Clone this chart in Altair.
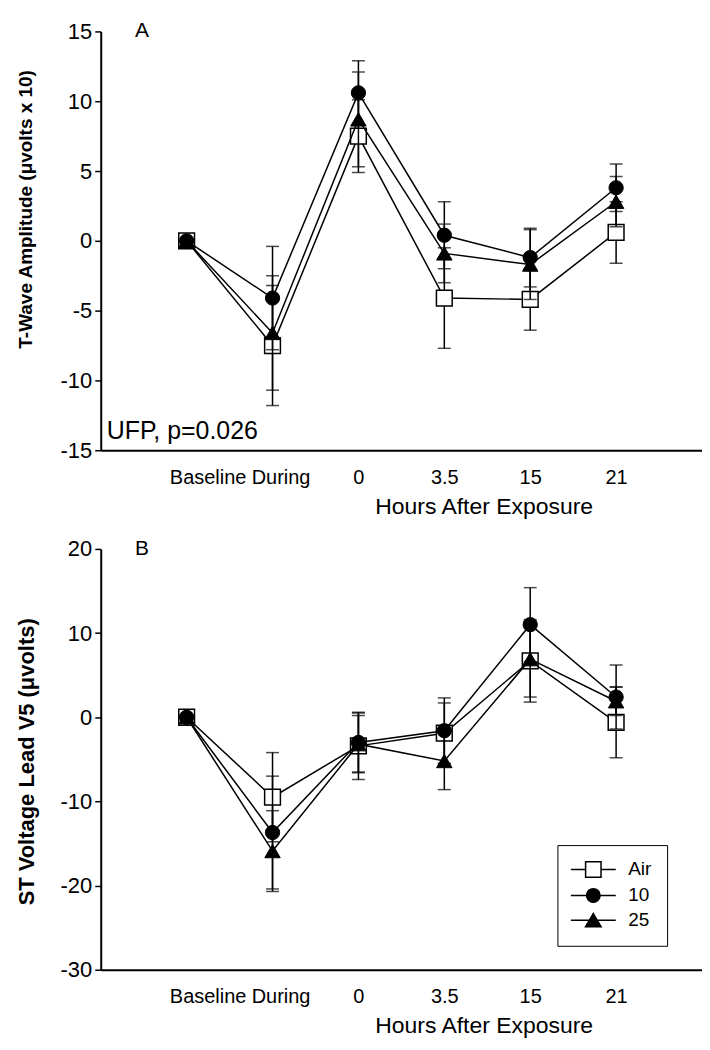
import altair as alt
import pandas as pd

# ---------------- data ----------------
x_labels = ["Baseline", "During", "0", "3.5", "15", "21"]
x_pos = [1, 2, 3, 4, 5, 6]
series_names = ["Air", "10", "25"]

# Panel A: T-wave amplitude (uV x 10)
a_air = [0, -7.5, 7.5, -4.1, -4.2, 0.6]
a_air_se = [0, 4.3, 2.6, 3.6, 2.2, 2.2]
a_10 = [0, -4.1, 10.6, 0.4, -1.2, 3.8]
a_10_se = [0, 3.7, 2.3, 2.4, 2.1, 1.7]
a_25 = [0, -6.6, 8.7, -0.9, -1.7, 2.8]
a_25_se = [0, 4.1, 3.4, 2.1, 2.5, 1.8]

# Panel B: ST voltage lead V5 (uV)
b_air = [0, -9.5, -3.4, -1.9, 6.7, -0.6]
b_air_se = [0, 5.3, 4.0, 3.6, 4.9, 4.2]
b_10 = [0, -13.7, -3.0, -1.6, 11.0, 2.4]
b_10_se = [0, 6.7, 3.5, 3.9, 4.4, 3.8]
b_25 = [0, -15.9, -3.2, -5.2, 6.9, 1.9]
b_25_se = [0, 4.8, 3.4, 3.4, 4.5, 1.7]

a_ticks = [-15, -10, -5, 0, 5, 10, 15]
b_ticks = [-30, -20, -10, 0, 10, 20]

FONT = "Liberation Sans"

marker_style = {
    "Air": dict(shape="square", size=250, fill="white", strokeWidth=1.5),
    "10": dict(shape="circle", size=205, fill="black", strokeWidth=1),
    "25": dict(shape="triangle-up", size=240, fill="black", strokeWidth=1),
}

legend_paths = [
    "M-2.65,0H-0.91M0.91,0H2.65M-0.91,-0.91H0.91V0.91H-0.91Z",
    "M-2.65,0H2.65M0.8,0A0.8,0.8,0,1,1,-0.8,0A0.8,0.8,0,1,1,0.8,0Z",
    "M-2.65,0H2.65M0,-0.8L0.92,0.75H-0.92Z",
]
legend_fills = ["white", "black", "black"]
legend_strokes = ["black", "black", "black"]


def build_df(means, ses):
    rows = []
    for name, m, s in zip(series_names, means, ses):
        for p, v, e in zip(x_pos, m, s):
            rows.append({"series": name, "pos": p, "mean": v,
                         "lo": v - e, "hi": v + e, "se": e})
    return pd.DataFrame(rows)


label_expr = "[" + ",".join("'%s'" % l for l in x_labels) + "][datum.value - 1]"
y_label_expr = "datum.value < 0 ? '-' + abs(datum.value) : '' + datum.value"


def make_panel(means, ses, ydomain, yticks, ytitle, ytitle_y, ytitle_fs, ytitle_pad,
               height, letter, note=None, legend_xy=None):
    df = build_df(means, ses)
    xscale = alt.Scale(domain=[0, 7], nice=False, zero=False)
    yscale = alt.Scale(domain=ydomain, nice=False, zero=False)
    x_axis = alt.Axis(
        values=x_pos, labelExpr=label_expr, ticks=False, tickSize=0,
        grid=False, title="Hours After Exposure", titleX=384,
        labelOffset={"expr": "datum.value == 1 ? 21 : (datum.value == 2 ? 8 : 0)"},
        labelOverlap=False, labelFlush=False,
        labelPadding=17, titlePadding=8, titleFontSize=23,
        titleFontWeight="normal", labelFontSize=20,
    )
    y_axis = alt.Axis(
        values=yticks, labelExpr=y_label_expr, grid=False, title=ytitle,
        titleY=ytitle_y, labelOverlap=False,
        tickSize=6, labelPadding=3, titlePadding=ytitle_pad, labelFontSize=22,
        titleFontSize=ytitle_fs, titleFontWeight="bold",
    )
    X = alt.X("pos:Q", scale=xscale, axis=x_axis)

    def Y(field):
        return alt.Y(field + ":Q", scale=yscale, axis=y_axis)

    layers = []
    for name in series_names:
        st = marker_style[name]
        base = alt.Chart(df).transform_filter(alt.datum.series == name)
        eb = base.transform_filter(alt.datum.se > 0)
        layers.append(eb.mark_rule(color="black", strokeWidth=1.5).encode(
            x=X, y=Y("lo"), y2="hi:Q"))
        layers.append(eb.mark_tick(orient="horizontal", size=13, thickness=1.5,
                                   color="black").encode(x=X, y=Y("lo")))
        layers.append(eb.mark_tick(orient="horizontal", size=13, thickness=1.5,
                                   color="black").encode(x=X, y=Y("hi")))
        layers.append(base.mark_line(color="black", strokeWidth=1.5).encode(
            x=X, y=Y("mean")))
        layers.append(base.mark_point(
            shape=st["shape"], size=st["size"], filled=True, fill=st["fill"],
            stroke="black", strokeWidth=st["strokeWidth"], opacity=1,
        ).encode(x=X, y=Y("mean")))

    ann = pd.DataFrame([{"x": 0.48, "y": ydomain[1], "text": letter}])
    layers.append(alt.Chart(ann).mark_text(
        align="center", baseline="middle", fontSize=21, color="black", font=FONT
    ).encode(x=alt.X("x:Q", scale=xscale, axis=x_axis),
             y=alt.Y("y:Q", scale=yscale, axis=y_axis), text="text:N"))
    if note is not None:
        note_df = pd.DataFrame([note])
        layers.append(alt.Chart(note_df).mark_text(
            align="left", baseline="middle", fontSize=25, color="black", font=FONT
        ).encode(x=alt.X("x:Q", scale=xscale, axis=x_axis),
                 y=alt.Y("y:Q", scale=yscale, axis=y_axis), text="text:N"))

    if legend_xy is not None:
        leg = alt.Legend(
            title=None, orient="none", legendX=legend_xy[0], legendY=legend_xy[1],
            padding=15, strokeColor="black", symbolSize=289,
            symbolOffset=11.5, labelOffset=25.5,
            symbolStrokeWidth=1.5, symbolStrokeColor="black", symbolOpacity=1,
            rowPadding=4, labelFontSize=19, labelFont=FONT, labelColor="black",
        )
        layers.append(alt.Chart(df).mark_point(
            size=289, filled=True, strokeWidth=1.5, opacity=0
        ).encode(
            x=X, y=Y("mean"),
            shape=alt.Shape("series:N", scale=alt.Scale(domain=series_names, range=legend_paths),
                            legend=leg),
            fill=alt.Fill("series:N", scale=alt.Scale(domain=series_names, range=legend_fills),
                          legend=leg),
            stroke=alt.Stroke("series:N", scale=alt.Scale(domain=series_names, range=legend_strokes),
                              legend=leg),
        ))

    return alt.layer(*layers).properties(width=603, height=height)


panel_a = make_panel(
    [a_air, a_10, a_25], [a_air_se, a_10_se, a_25_se], [-15, 15], a_ticks,
    "T-Wave Amplitude (\u03bcvolts x 10)", 178, 19, 24.5, 420, "A",
    note={"x": 0.07, "y": -13.6, "text": "UFP, p=0.026"},
)
panel_b = make_panel(
    [b_air, b_10, b_25], [b_air_se, b_10_se, b_25_se], [-30, 20], b_ticks,
    "ST Voltage Lead V5 (\u03bcvolts)", 213, 22, 21.5, 422, "B",
    legend_xy=(458, 816),
)

chart = alt.vconcat(panel_a, panel_b, spacing=20).properties(
    padding={"left": 7, "top": 11, "right": 0, "bottom": 5}
).configure(font=FONT).configure_view(stroke=None).configure_axis(
    domainColor="black", domainWidth=2, tickColor="black", tickWidth=1.5,
    labelColor="black", titleColor="black", labelFont=FONT, titleFont=FONT,
).configure_legend(strokeWidth=1)

chart.save("out.html", embed_options={"renderer": "svg", "actions": False})
